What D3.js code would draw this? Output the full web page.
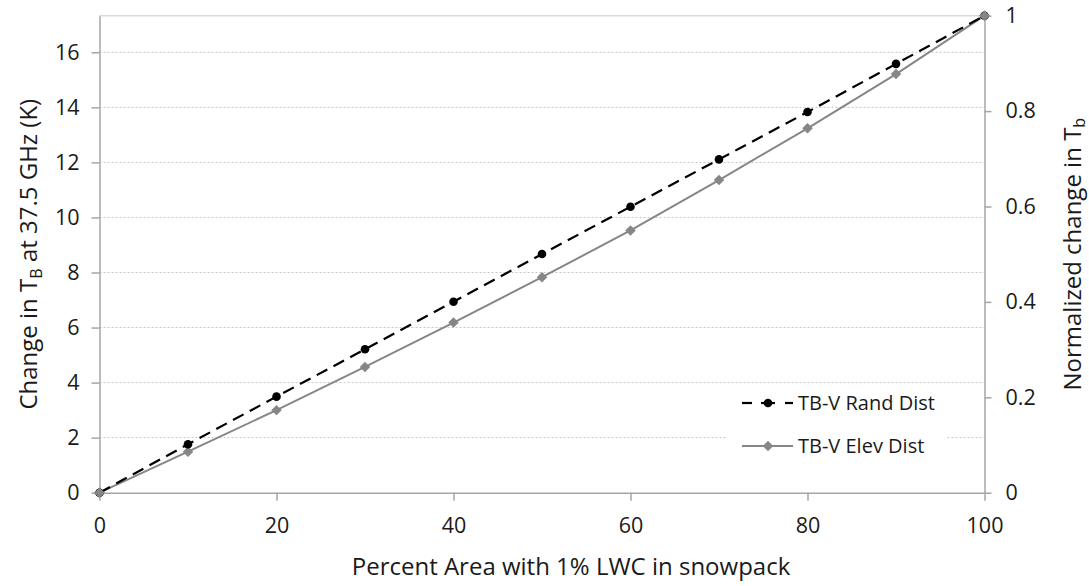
<!DOCTYPE html>
<html>
<head>
<meta charset="utf-8">
<script src="https://cdn.jsdelivr.net/npm/d3@7"></script>
<style>
  html, body { margin: 0; padding: 0; background: #fff; }
  svg { display: block; font-family: "Open Sans", "Liberation Sans", Arial, sans-serif; }
</style>
</head>
<body>
<svg id="chart" width="1089" height="586"></svg>
<script>
// Percent of area with 1% liquid water content
const percentArea = [0, 10, 20, 30, 40, 50, 60, 70, 80, 90, 100];
// Change in brightness temperature (K), random distribution
const randDist = [0, 1.76, 3.49, 5.21, 6.94, 8.67, 10.39, 12.11, 13.83, 15.58, 17.33];
// Change in brightness temperature (K), elevation distribution
const elevDist = [0, 1.49, 3.00, 4.57, 6.18, 7.83, 9.53, 11.36, 13.24, 15.21, 17.33];

const xTicks = [0, 20, 40, 60, 80, 100];
const yLeftTicks = [0, 2, 4, 6, 8, 10, 12, 14, 16];
const yRightTicks = [0, 0.2, 0.4, 0.6, 0.8, 1];
const seriesNames = ["TB-V Rand Dist", "TB-V Elev Dist"];

const leftMax = 17.33;

const svg = d3.select("#chart");
const plot = { left: 99.5, right: 984.5, top: 15.7, bottom: 492.7 };

const x = d3.scaleLinear().domain([0, 100]).range([plot.left, plot.right]);
const yL = d3.scaleLinear().domain([0, leftMax]).range([plot.bottom, plot.top]);
const yR = d3.scaleLinear().domain([0, 1]).range([plot.bottom, plot.top]);

const axisColor = "#a6a6a6";
const textColor = "#1a1a1a";
const fontFamily = "'Open Sans', 'Liberation Sans', Arial, sans-serif";
const tickFont = 21.5;
const titleFont = 24;
const dashPattern = "12,7";

// Horizontal gridlines (dotted)
svg.append("g")
  .selectAll("line")
  .data(yLeftTicks.filter(d => d > 0))
  .join("line")
  .attr("x1", plot.left).attr("x2", plot.right)
  .attr("y1", d => yL(d)).attr("y2", d => yL(d))
  .attr("stroke", "#c4c4c4")
  .attr("stroke-width", 1)
  .attr("stroke-dasharray", "2,2");

// Top border of plot area
svg.append("line")
  .attr("x1", plot.left).attr("x2", plot.right)
  .attr("y1", plot.top).attr("y2", plot.top)
  .attr("stroke", "#d9d9d9").attr("stroke-width", 1.5);

// Axes
function styleAxis(g) {
  g.select(".domain").attr("stroke", axisColor).attr("stroke-width", 1.5);
  g.selectAll(".tick line").attr("stroke", axisColor).attr("stroke-width", 1.5);
  g.selectAll(".tick text").attr("fill", textColor).attr("font-size", tickFont)
    .attr("font-family", fontFamily);
}

const gx = svg.append("g")
  .attr("transform", `translate(0,${plot.bottom})`)
  .call(d3.axisBottom(x).tickValues(xTicks).tickSize(8).tickSizeOuter(0).tickPadding(17).tickFormat(d3.format("d")));
styleAxis(gx);

const gyl = svg.append("g")
  .attr("transform", `translate(${plot.left},0)`)
  .call(d3.axisLeft(yL).tickValues(yLeftTicks).tickSize(8).tickSizeOuter(0).tickPadding(12).tickFormat(d3.format("d")));
styleAxis(gyl);

const gyr = svg.append("g")
  .attr("transform", `translate(${plot.right},0)`)
  .call(d3.axisRight(yR).tickValues(yRightTicks).tickSize(7).tickSizeOuter(0).tickPadding(14).tickFormat(d => d === 0 || d === 1 ? d3.format("d")(d) : d3.format(".1f")(d)));
styleAxis(gyr);

// Axis titles
svg.append("text")
  .attr("x", 571)
  .attr("y", 575)
  .attr("text-anchor", "middle")
  .attr("font-size", titleFont)
  .attr("fill", textColor)
  .text("Percent Area with 1% LWC in snowpack");

const lt = svg.append("text")
  .attr("transform", `translate(37,${(plot.top + plot.bottom) / 2}) rotate(-90)`)
  .attr("text-anchor", "middle")
  .attr("font-size", titleFont)
  .attr("fill", textColor);
lt.append("tspan").text("Change in T");
lt.append("tspan").attr("font-size", 16).attr("dy", 5).text("B");
lt.append("tspan").attr("dy", -5).text(" at 37.5 GHz (K)");

const rt = svg.append("text")
  .attr("transform", `translate(1081,${(plot.top + plot.bottom) / 2}) rotate(-90)`)
  .attr("text-anchor", "middle")
  .attr("font-size", titleFont)
  .attr("fill", textColor);
rt.append("tspan").text("Normalized change in T");
rt.append("tspan").attr("font-size", 16).attr("dy", 4).text("b");

// Legend background hides gridlines beneath it
const legend = { x: 726, y: 386, w: 220, h: 90 };
svg.append("rect")
  .attr("x", legend.x).attr("y", legend.y)
  .attr("width", legend.w).attr("height", legend.h)
  .attr("fill", "#fff");

// Series lines
const lineGen = (vals) => d3.line()
  .x((d, i) => x(percentArea[i]))
  .y(d => yL(d))(vals);

const elevColor = "#868686";

svg.append("path")
  .attr("d", lineGen(elevDist))
  .attr("fill", "none")
  .attr("stroke", elevColor)
  .attr("stroke-width", 2);

svg.append("path")
  .attr("d", lineGen(randDist))
  .attr("fill", "none")
  .attr("stroke", "#000")
  .attr("stroke-width", 2.2)
  .attr("stroke-dasharray", dashPattern);

// Markers
const diamond = d3.symbol().type(d3.symbolDiamond2).size(70);
svg.append("g")
  .selectAll("path")
  .data(elevDist)
  .join("path")
  .attr("d", diamond)
  .attr("transform", (d, i) => `translate(${x(percentArea[i])},${yL(d)})`)
  .attr("fill", elevColor);

svg.append("g")
  .selectAll("circle")
  .data(randDist)
  .join("circle")
  .attr("cx", (d, i) => x(percentArea[i]))
  .attr("cy", d => yL(d))
  .attr("r", 4.3)
  .attr("fill", "#000");

// Gray diamonds sit on top at the shared end points
[0, percentArea.length - 1].forEach(i => {
  svg.append("path")
    .attr("d", diamond)
    .attr("transform", `translate(${x(percentArea[i])},${yL(elevDist[i])})`)
    .attr("fill", elevColor);
});

// Legend entries
const legendRows = [
  { name: seriesNames[0], y: 403, color: "#000", dashed: true },
  { name: seriesNames[1], y: 446, color: elevColor, dashed: false }
];
legendRows.forEach(r => {
  const g = svg.append("g");
  const x1 = 742, x2 = 793, mx = 768;
  if (r.dashed) {
    g.append("line").attr("x1", x1).attr("x2", x1 + 10).attr("y1", r.y).attr("y2", r.y)
      .attr("stroke", r.color).attr("stroke-width", 2.2);
    g.append("line").attr("x1", x2 - 8).attr("x2", x2).attr("y1", r.y).attr("y2", r.y)
      .attr("stroke", r.color).attr("stroke-width", 2.2);
    g.append("line").attr("x1", mx - 7).attr("x2", mx + 7).attr("y1", r.y).attr("y2", r.y)
      .attr("stroke", r.color).attr("stroke-width", 2.2);
    g.append("circle").attr("cx", mx).attr("cy", r.y).attr("r", 4.3).attr("fill", r.color);
  } else {
    g.append("line").attr("x1", x1).attr("x2", x2).attr("y1", r.y).attr("y2", r.y)
      .attr("stroke", r.color).attr("stroke-width", 2);
    g.append("path").attr("d", diamond).attr("transform", `translate(${mx},${r.y})`).attr("fill", r.color);
  }
  g.append("text")
    .attr("x", 798).attr("y", r.y)
    .attr("dy", "0.35em")
    .attr("font-size", 20)
    .attr("fill", textColor)
    .text(r.name);
});
</script>
</body>
</html>
